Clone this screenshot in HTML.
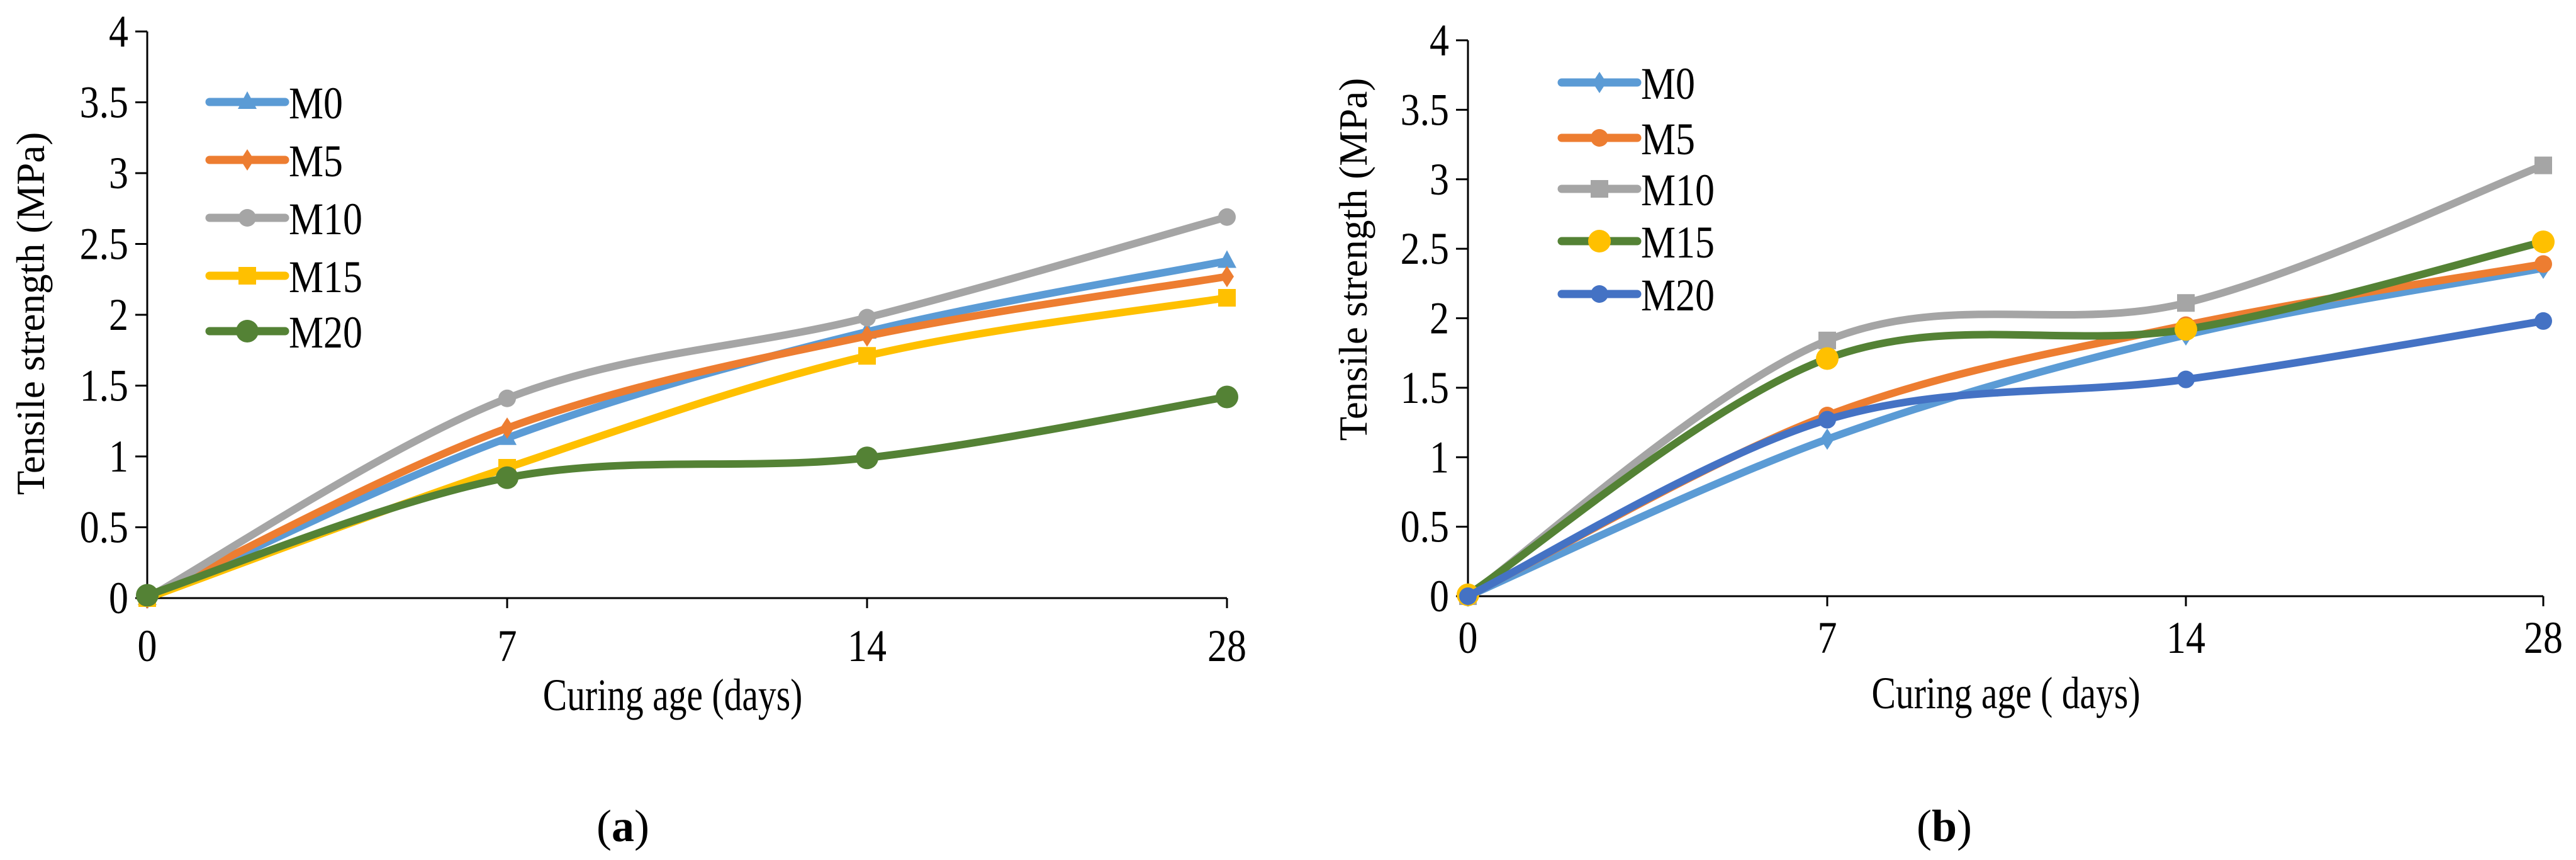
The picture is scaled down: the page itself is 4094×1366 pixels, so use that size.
<!DOCTYPE html>
<html><head><meta charset="utf-8"><style>
html,body{margin:0;padding:0;background:#fff;}
svg{display:block;}
text{font-family:"Liberation Serif",serif;fill:#000;}
</style></head><body>
<svg id="s" width="4094" height="1366" viewBox="0 0 4094 1366"></svg>
<script>
const categories=["0","7","14","28"];
const yTicks=[0,0.5,1,1.5,2,2.5,3,3.5,4];
const yTickLabels=["0","0.5","1","1.5","2","2.5","3","3.5","4"];
const seriesNames=["M0","M5","M10","M15","M20"];
const aM0=[0,1.13,1.88,2.38];
const aM5=[0,1.2,1.85,2.27];
const aM10=[0,1.41,1.98,2.69];
const aM15=[0,0.92,1.71,2.12];
const aM20=[0.02,0.85,0.99,1.42];
const bM0=[0,1.13,1.88,2.36];
const bM5=[0,1.3,1.95,2.39];
const bM10=[0,1.84,2.11,3.1];
const bM15=[0.01,1.71,1.92,2.55];
const bM20=[0,1.27,1.56,1.98];

const NS="http://www.w3.org/2000/svg";
const svg=document.getElementById('s');
function mk(tag,attrs,parent){const e=document.createElementNS(NS,tag);for(const k in attrs)e.setAttribute(k,attrs[k]);(parent||svg).appendChild(e);return e;}
function txt(str,x,y,size,anchor,parent,sx,rot){
  const t=mk('text',{x:0,y:0,'font-size':size,'text-anchor':anchor,transform:`translate(${x},${y})`+(rot?` rotate(${rot})`:'')+` scale(${sx||0.86},1)`},parent);
  t.textContent=str;return t;}
function smoothPath(pts){
  let d=`M${pts[0][0]},${pts[0][1]}`;
  for(let i=0;i<pts.length-1;i++){
    const p0=pts[i-1]||pts[i],p1=pts[i],p2=pts[i+1],p3=pts[i+2]||p2;
    const c1=[p1[0]+(p2[0]-p0[0])/6,p1[1]+(p2[1]-p0[1])/6];
    const c2=[p2[0]-(p3[0]-p1[0])/6,p2[1]-(p3[1]-p1[1])/6];
    d+=` C${c1[0]},${c1[1]} ${c2[0]},${c2[1]} ${p2[0]},${p2[1]}`;}
  return d;}
function marker(type,x,y,color,g){
  let e;
  if(type==='tri')e=mk('polygon',{points:`${x},${y-17} ${x+15},${y+11} ${x-15},${y+11}`,fill:color},g);
  else if(type==='dia')e=mk('polygon',{points:`${x},${y-17} ${x+11},${y} ${x},${y+17} ${x-11},${y}`,fill:color},g);
  else if(type==='sq')e=mk('rect',{x:x-14,y:y-14,width:28,height:28,fill:color},g);
  else if(type==='bigc')e=mk('circle',{cx:x,cy:y,r:18,fill:color},g);
  else e=mk('circle',{cx:x,cy:y,r:14,fill:color},g);
  
  
  return e;}

function chart(cfg){
  const g=mk('g',{});
  
  
  const xs=cfg.xs;
  const yS=v=>cfg.y0-(v/4)*(cfg.y0-cfg.y4);
  const ax=mk('g',{stroke:'#000','stroke-width':3},g);
  
  
  mk('line',{x1:xs[0],y1:yS(4),x2:xs[0],y2:yS(0)},ax);
  mk('line',{x1:xs[0],y1:yS(0),x2:xs[3],y2:yS(0)},ax);
  yTicks.forEach((v,i)=>{
    mk('line',{x1:xs[0]-19,y1:yS(v),x2:xs[0],y2:yS(v)},ax);
    const t=txt(yTickLabels[i],xs[0]-30,yS(v)+24,72,'end',g);
    
    
  });
  categories.forEach((c,i)=>{
    mk('line',{x1:xs[i],y1:yS(0),x2:xs[i],y2:yS(0)+16},ax);
    const t=txt(c,xs[i],cfg.tickY,72,'middle',g);
    
    
  });
  const xt=txt(cfg.xTitle,cfg.xTitleX,cfg.xTitleY,72,'middle',g,0.8);
  
  
  const yt=txt(cfg.yTitle,cfg.yTitleX,cfg.yTitleY,63,'middle',g,1,-90);
  
  
  const lab=mk('text',{x:cfg.labX,y:cfg.labY,'font-size':72,'text-anchor':'middle'},g);
  
  
  lab.innerHTML='(<tspan font-weight="bold">'+cfg.lab+'</tspan>)';
  cfg.series.forEach((s,si)=>{
    const sg=mk('g',{},g);
    
    
    const pts=s.data.map((v,i)=>[xs[i],yS(v)]);
    const p=mk('path',{d:smoothPath(pts),fill:'none',stroke:s.line,'stroke-width':12,'stroke-linecap':'round','stroke-linejoin':'round'},sg);
    
    
    pts.forEach(q=>marker(s.m,q[0],q[1],s.mc||s.line,sg));
    const lg=mk('g',{},g);
    
    
    const ly=cfg.legY[si];
    mk('line',{x1:cfg.legX,y1:ly,x2:cfg.legX+120,y2:ly,stroke:s.line,'stroke-width':13,'stroke-linecap':'round'},lg);
    marker(s.m,cfg.legX+60,ly,s.mc||s.line,lg);
    txt(seriesNames[si],cfg.legX+126,ly+26,72,'start',lg,0.86);
  });
}
chart({name:'chart-a',xs:[234,806,1378,1950],y0:950,y4:50,tickY:1050,
  xTitle:'Curing age (days)',xTitleX:1069,xTitleY:1128,yTitle:'Tensile strength (MPa)',yTitleX:70,yTitleY:498,
  lab:'a',labX:990,labY:1336,legX:333,legY:[162,254,346,438,526],
  series:[{data:aM0,line:'#5B9BD5',m:'tri'},{data:aM5,line:'#ED7D31',m:'dia'},{data:aM10,line:'#A5A5A5',m:'c'},
          {data:aM15,line:'#FFC000',m:'sq'},{data:aM20,line:'#548235',m:'bigc'}]});
chart({name:'chart-b',xs:[2333,2904,3474,4042],y0:947,y4:64,tickY:1037,
  xTitle:'Curing age ( days)',xTitleX:3188,xTitleY:1125,yTitle:'Tensile  strength (MPa)',yTitleX:2172,yTitleY:412,
  lab:'b',labX:3090,labY:1336,legX:2482,legY:[131,219,300,383,467],
  series:[{data:bM0,line:'#5B9BD5',m:'dia'},{data:bM5,line:'#ED7D31',m:'c'},{data:bM10,line:'#A5A5A5',m:'sq'},
          {data:bM15,line:'#548235',m:'bigc',mc:'#FFC000'},{data:bM20,line:'#4472C4',m:'c'}]});
</script>
</body></html>
